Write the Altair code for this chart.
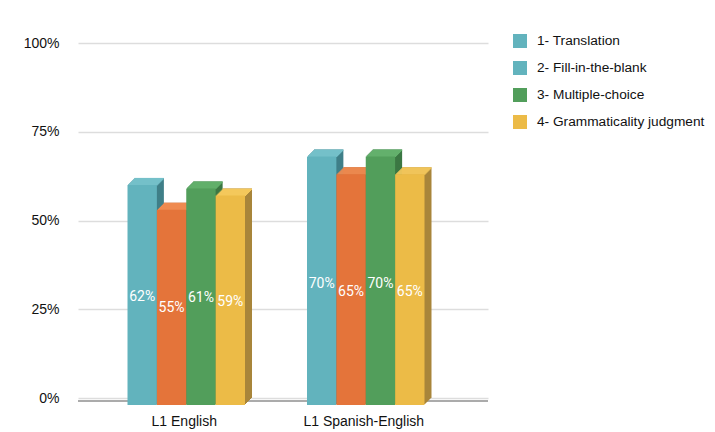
import altair as alt
import pandas as pd

# ---- data ----
groups = ["L1 English", "L1 Spanish-English"]
tasks = ["1- Translation", "2- Fill-in-the-blank", "3- Multiple-choice", "4- Grammaticality judgment"]
l1_english = [62, 55, 61, 59]
l1_spanish_english = [70, 65, 70, 65]
y_ticks = [0, 25, 50, 75, 100]

# ---- styles ----
front_colors = ["#62b3bd", "#e4743a", "#529e5b", "#ecbb47"]
top_colors = ["#74c0c9", "#ef8b50", "#63b06c", "#f4c85c"]
side_colors = ["#3f7f88", "#b35c2d", "#3b7743", "#a8853a"]
legend_colors = ["#62b3bd", "#62b3bd", "#529e5b", "#ecbb47"]

rows = []
for g, vals in zip(groups, [l1_english, l1_spanish_english]):
    for t, v in zip(tasks, vals):
        rows.append({"group": g, "task": t, "value": v})
df = pd.DataFrame(rows)
base_df = pd.DataFrame({"value": [y_ticks[0]]})

DEPTH = 7          # 3D depth in px
BW = 117.5         # width of one group of bars in px
FONT = "Liberation Sans"

x_enc = alt.X(
    "group:N", sort=groups,
    scale=alt.Scale(domain=groups, paddingInner=0.3454, paddingOuter=0.3148, align=0.5),
    axis=alt.Axis(title=None, labelAngle=0, domain=False, ticks=False, grid=False,
                  labelPadding=16, labelOffset=-9, labelFontSize=14, labelFont=FONT,
                  labelColor="#111"),
)
y_scale = alt.Scale(domain=[0, 100], nice=False)
y_axis = alt.Axis(title=None, values=y_ticks, labelExpr="datum.value + '%'", domain=False,
                  ticks=False, labelPadding=19, grid=True, gridColor="#dddddd", gridWidth=1.5,
                  labelFontSize=14, labelFont=FONT, labelColor="#111")


def xo(shift):
    return alt.XOffset("task:N", sort=tasks,
                       scale=alt.Scale(domain=tasks, range=[shift, shift + BW],
                                       paddingInner=0, paddingOuter=0))


def xo_point(shift):
    return alt.XOffset("task:N", sort=tasks,
                       scale=alt.Scale(type="point", domain=tasks, range=[shift, shift + BW],
                                       padding=0.5))


def col(rng):
    return alt.Color("task:N", scale=alt.Scale(domain=tasks, range=rng), legend=None)


layers = []

# baseline
layers.append(
    alt.Chart(base_df).mark_rule(color="#8f8f8f", strokeWidth=1.5, yOffset=3).encode(
        y=alt.Y("value:Q", scale=y_scale, axis=y_axis)
    )
)

# side faces (extruded copies)
for k in range(1, DEPTH + 1):
    layers.append(
        alt.Chart(df).mark_bar(yOffset=DEPTH - k, y2Offset=DEPTH - k).encode(
            x=x_enc, xOffset=xo(k - DEPTH),
            y=alt.Y("value:Q", scale=y_scale, axis=y_axis), y2=alt.datum(0),
            color=col(side_colors),
        )
    )

# top faces (1px strips)
for k in range(1, DEPTH + 1):
    layers.append(
        alt.Chart(df).mark_bar(yOffset=DEPTH - k, y2Offset=DEPTH - k + 1.5).encode(
            x=x_enc, xOffset=xo(k - DEPTH),
            y=alt.Y("value:Q", scale=y_scale, axis=y_axis), y2="value:Q",
            color=col(top_colors),
        )
    )

# front faces
layers.append(
    alt.Chart(df).mark_bar(yOffset=DEPTH, y2Offset=DEPTH).encode(
        x=x_enc, xOffset=xo(-DEPTH),
        y=alt.Y("value:Q", scale=y_scale, axis=y_axis), y2=alt.datum(0),
        color=col(front_colors),
    )
)

# value labels
layers.append(
    alt.Chart(df).transform_calculate(
        label_pos="datum.value * 0.46", label="datum.value + '%'"
    ).mark_text(color="white", font="Roboto", fontSize=14).encode(
        x=x_enc, xOffset=xo_point(-DEPTH),
        y=alt.Y("label_pos:Q", scale=y_scale, axis=y_axis),
        text="label:N",
    )
)

# legend (as drawn in the original)
layers.append(
    alt.Chart(df).transform_filter("datum.value < 0").mark_square(opacity=1, filled=True).encode(
        color=alt.Color(
            "task:N",
            scale=alt.Scale(domain=tasks, range=legend_colors),
            legend=alt.Legend(
                title=None, orient="none", legendX=435, legendY=-9, symbolType="square",
                symbolSize=196, symbolStrokeWidth=0, rowPadding=13, labelOffset=10,
                labelFontSize=13.7, labelFont=FONT, labelColor="#111", padding=0,
                labelLimit=300,
            ),
        )
    )
)

chart = alt.layer(*layers).resolve_scale(
    color="independent", xOffset="independent"
).properties(
    width=410, height=355,
    padding={"left": 70, "top": 35, "right": 219, "bottom": 32},
    autosize=alt.AutoSizeParams(type="none"),
    background="white",
).configure_view(stroke=None)

chart.save("out.html", embed_options={"renderer": "svg", "actions": False})
